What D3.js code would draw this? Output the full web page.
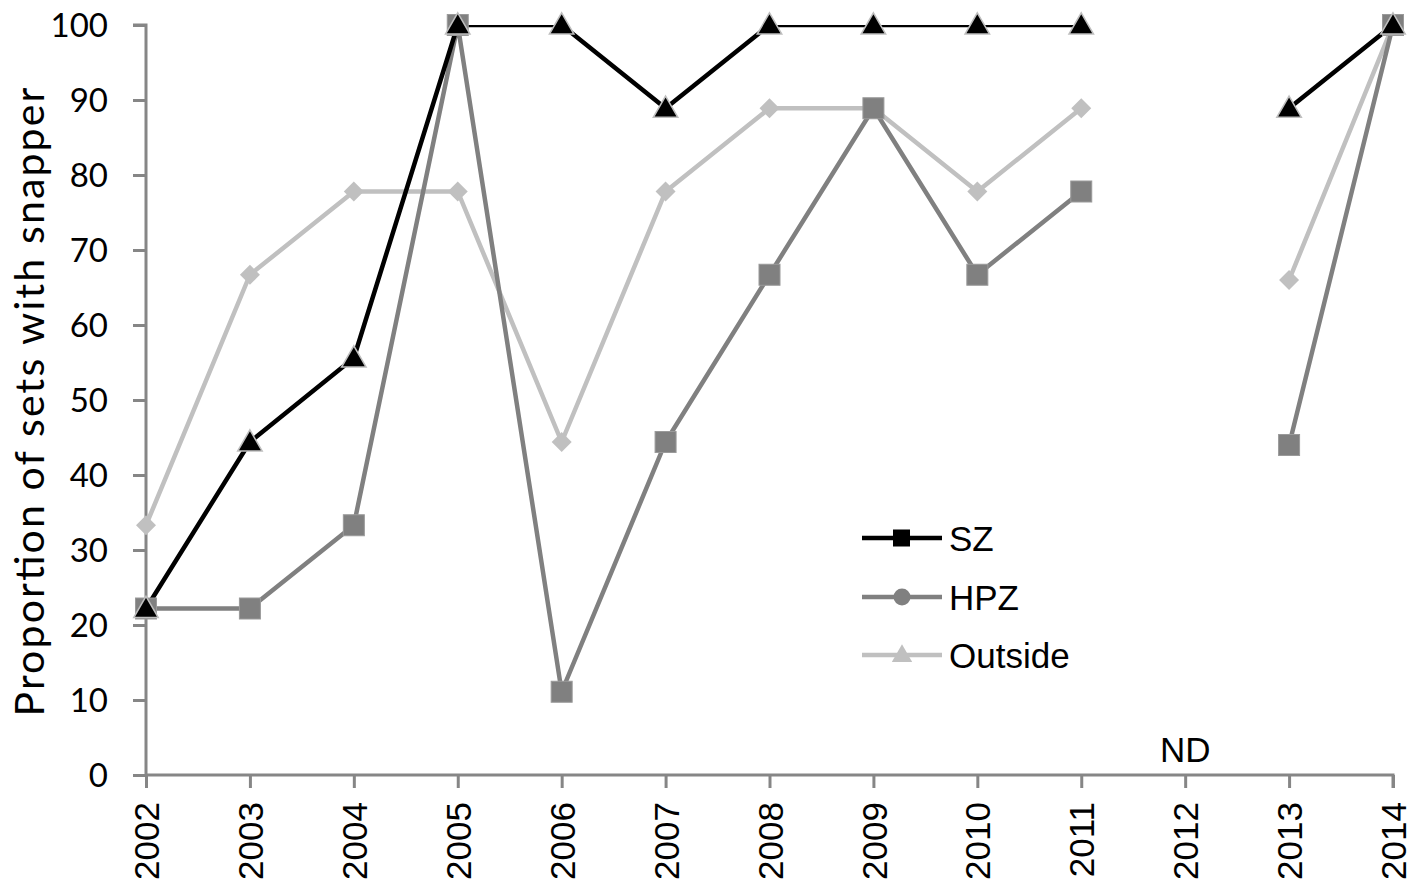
<!DOCTYPE html>
<html><head><meta charset="utf-8">
<script src="https://cdn.jsdelivr.net/npm/d3@7"></script>
<style>body{margin:0;background:#fff}</style>
</head><body>
<svg id="c" width="1421" height="884"></svg>
<script>
const years = ["2002","2003","2004","2005","2006","2007","2008","2009","2010","2011","2012","2013","2014"];
const sz = [22.2,44.4,55.6,100,100,88.9,100,100,100,100,null,88.9,100];
const hpz = [22.2,22.2,33.3,100,11.1,44.4,66.7,88.9,66.7,77.8,null,44,100];
const outside = [33.3,66.7,77.8,77.8,44.4,77.8,88.9,88.9,77.8,88.9,null,66,100];
const yTicks = [0,10,20,30,40,50,60,70,80,90,100];
const seriesNames = ["SZ","HPZ","Outside"];

const svg = d3.select("#c");
const L=146,R=1393,T=25,B=775;
const x = d3.scalePoint().domain(years).range([L,R]);
const y = d3.scaleLinear().domain([0,100]).range([B,T]);
const axisCol = "#868686";
const arial = "Liberation Sans, Arial, sans-serif";

svg.append("defs").append("clipPath").attr("id","clip")
  .append("rect").attr("x",L-20).attr("y",T).attr("width",R-L+40).attr("height",B-T+10);

// y axis
const ya = svg.append("g").attr("transform",`translate(${L},0)`)
  .call(d3.axisLeft(y).tickValues(yTicks).tickSize(13).tickPadding(25));
ya.select(".domain").attr("stroke",axisCol).attr("stroke-width",3).attr("d",`M-13,${T}H0V${B}`);
ya.selectAll(".tick line").attr("stroke",axisCol).attr("stroke-width",3);
ya.selectAll(".tick text").attr("font-family","Lato, sans-serif").attr("font-size",33).attr("fill","#000").attr("dy","0.36em");

// x axis
const xa = svg.append("g").attr("transform",`translate(0,${B})`)
  .call(d3.axisBottom(x).tickSize(13).tickPadding(0));
xa.select(".domain").attr("stroke",axisCol).attr("stroke-width",3).attr("d",`M${L},0H${R}V13`);
xa.selectAll(".tick line").attr("stroke",axisCol).attr("stroke-width",3);
xa.selectAll(".tick text").attr("font-family",arial).attr("font-size",35).attr("fill","#000")
  .attr("transform","rotate(-90)").attr("text-anchor","end").attr("x",-27).attr("y",0).attr("dy","0.36em");

// y title
svg.append("text").attr("transform","translate(44,402) rotate(-90)").attr("text-anchor","middle")
  .attr("font-family","Lato, sans-serif").attr("font-size",41).attr("fill","#000")
  .attr("textLength",629).attr("lengthAdjust","spacing").text("Proportion of sets with snapper");

// ND
svg.append("text").attr("x",x("2012")).attr("y",762).attr("text-anchor","middle")
  .attr("font-family",arial).attr("font-size",35).attr("fill","#000").text("ND");

const line = d3.line().defined(d=>d.v!==null).x(d=>x(d.k)).y(d=>y(d.v));
const mk = arr => years.map((k,i)=>({k,v:arr[i]}));

const g = svg.append("g");
const lines = g.append("g").attr("clip-path","url(#clip)");
function drawLine(arr,col){
  lines.append("path").datum(mk(arr)).attr("d",line).attr("fill","none").attr("stroke",col).attr("stroke-width",4.5).attr("stroke-linejoin","round");
}
// Outside
drawLine(outside,"#c0c0c0");
g.selectAll(".dia").data(mk(outside).filter(d=>d.v!==null)).join("path")
  .attr("d",d3.symbol(d3.symbolSquare,200)).attr("transform",d=>`translate(${x(d.k)},${y(d.v)}) rotate(45)`).attr("fill","#c0c0c0");
// HPZ
drawLine(hpz,"#808080");
g.selectAll(".sq").data(mk(hpz).filter(d=>d.v!==null)).join("rect")
  .attr("x",d=>x(d.k)-10.5).attr("y",d=>y(d.v)-10.5).attr("width",21).attr("height",21).attr("fill","#808080").attr("stroke","#9a9a9a").attr("stroke-width",1);
// SZ
drawLine(sz,"#000");
g.selectAll(".tri").data(mk(sz).filter(d=>d.v!==null)).join("path")
  .attr("d",d3.symbol(d3.symbolTriangle,260)).attr("transform",d=>`translate(${x(d.k)},${y(d.v)+2})`).attr("fill","#000").attr("stroke","#bfbfbf").attr("stroke-width",1.5);

// legend
const leg = svg.append("g");
const legY = [538,597,655];
const legCol = ["#000","#808080","#c0c0c0"];
seriesNames.forEach((n,i)=>{
  leg.append("line").attr("x1",862).attr("x2",942).attr("y1",legY[i]).attr("y2",legY[i]).attr("stroke",legCol[i]).attr("stroke-width",4.5);
  leg.append("text").attr("x",949).attr("y",legY[i]).attr("dy","0.36em").attr("font-family",arial).attr("font-size",35).attr("fill","#000").text(n);
});
leg.append("rect").attr("x",893).attr("y",legY[0]-8.5).attr("width",17).attr("height",17).attr("fill","#000");
leg.append("circle").attr("cx",902).attr("cy",legY[1]).attr("r",8.5).attr("fill","#808080");
leg.append("path").attr("d",d3.symbol(d3.symbolTriangle,180)).attr("transform",`translate(902,${legY[2]+1})`).attr("fill","#c0c0c0");
</script>
</body></html>
